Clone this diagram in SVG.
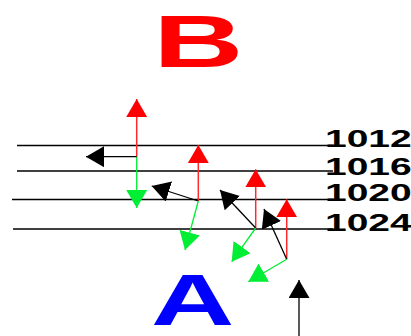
<svg xmlns="http://www.w3.org/2000/svg" width="411" height="336" viewBox="0 0 411 336">
<style>
.lvl{stroke:#000;stroke-width:1.5;fill:none}
.lbl{font-family:"Liberation Sans",Arial,sans-serif;font-weight:bold;font-size:23.5px;fill:#000}
.big{font-family:"Liberation Sans",Arial,sans-serif;font-weight:bold}
.r{stroke:#ff2a2a;stroke-width:1.5;fill:none;marker-end:url(#hr)}
.g{stroke:#00ee33;stroke-width:1.3;fill:none;marker-end:url(#hg)}
.k{stroke:#000;stroke-width:1.3;fill:none;marker-end:url(#hk)}
</style>
<defs>
<marker id="hr" viewBox="0 -10.5 18 21" refX="18" refY="0" markerWidth="18" markerHeight="21" markerUnits="userSpaceOnUse" orient="auto"><path d="M0,-10.5 L18,0 L0,10.5 Z" fill="#ff0000"/></marker>
<marker id="hg" viewBox="0 -10.5 18 21" refX="18" refY="0" markerWidth="18" markerHeight="21" markerUnits="userSpaceOnUse" orient="auto"><path d="M0,-10.5 L18,0 L0,10.5 Z" fill="#00ee33"/></marker>
<marker id="hk" viewBox="0 -10.5 18 21" refX="18" refY="0" markerWidth="18" markerHeight="21" markerUnits="userSpaceOnUse" orient="auto"><path d="M0,-10.5 L18,0 L0,10.5 Z" fill="#000"/></marker>
</defs>
<g id="title-B"><text class="big" font-size="75" fill="#ff0000" transform="translate(153.2,66.7) scale(1.664,1)">B</text></g>
<g id="title-A"><text class="big" font-size="73" fill="#0000ff" transform="translate(151,325) scale(1.58,1)">A</text></g>
<g id="level-1012"><line class="lvl" x1="17" y1="145.5" x2="333" y2="145.5"/><text class="lbl" transform="translate(325,146.7) scale(1.66,1)">1012</text></g>
<g id="level-1016"><line class="lvl" x1="17" y1="171" x2="333" y2="171"/><text class="lbl" transform="translate(325,175) scale(1.66,1)">1016</text></g>
<g id="level-1020"><line class="lvl" x1="12" y1="199.5" x2="333" y2="199.5"/><text class="lbl" transform="translate(325,200.5) scale(1.66,1)">1020</text></g>
<g id="level-1024"><line class="lvl" x1="13" y1="229" x2="333" y2="229"/><text class="lbl" transform="translate(325,230.5) scale(1.66,1)">1024</text></g>
<g id="connectors">
<line class="r" x1="136.7" y1="156.7" x2="136.7" y2="99"/>
<line class="g" x1="136.7" y1="156.7" x2="136.7" y2="208"/>
<line class="k" x1="136.7" y1="156.7" x2="86" y2="156.7"/>
<line class="r" x1="198.3" y1="201" x2="198.3" y2="145"/>
<line class="k" x1="198.3" y1="201" x2="151.7" y2="186"/>
<line class="g" x1="198.3" y1="201" x2="185" y2="250"/>
<line class="r" x1="255.7" y1="228" x2="255.7" y2="169.3"/>
<line class="k" x1="255.7" y1="228" x2="220" y2="190"/>
<line class="g" x1="255.7" y1="228" x2="231.7" y2="261.7"/>
<line class="r" x1="286.7" y1="259.3" x2="286.7" y2="199.3"/>
<line class="k" x1="286.7" y1="259.3" x2="264" y2="209"/>
<line class="g" x1="286.7" y1="259.3" x2="248.3" y2="281.7"/>
<line class="k" x1="299" y1="336" x2="299" y2="280"/>
</g>
</svg>
